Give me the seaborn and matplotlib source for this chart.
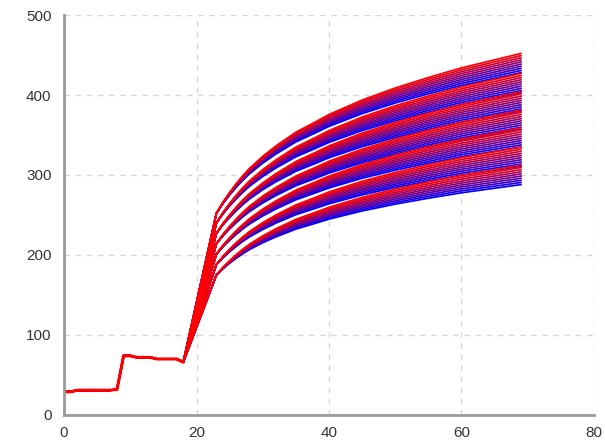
import pandas as pd
import matplotlib
matplotlib.use("Agg")
import matplotlib.pyplot as plt
import seaborn as sns

# ---------------- data ----------------
# shared start of every line (x = 0 .. 18)
pre_x = list(range(19))
pre_y = [29, 29, 31, 31, 31, 31, 31, 31, 32, 74, 74, 72, 72, 72, 70, 70, 70, 70, 66]

# shape of the growth part, read from the top (red) line
curve_x = [23, 24, 25, 26, 27, 28, 30, 32, 35, 38, 40, 45, 50, 55, 60, 65, 69]
curve_top = [254, 268, 280, 291, 301, 310, 325, 338, 355, 368, 377, 395, 410, 423, 435, 445, 453]

# seven bands: value at x=23 and end value of the reddest line at x=69
band_start = [175, 188, 201, 214, 227, 240, 252]
band_end_red = [312, 335, 359, 381, 404, 427, 452]
band_spread = 24      # gap between bluest and reddest line end inside a band
n_shades = 10         # lines per band, blue -> red

# ---------------- build the long table ----------------
span = curve_top[-1] - curve_top[0]
profile = [(v - curve_top[0]) / span for v in curve_top]

rows = []
for j in range(n_shades):
    for b in range(len(band_start)):
        name = f"s{j}_b{b}"
        end = band_end_red[b] - band_spread * (1 - j / (n_shades - 1))
        xs = pre_x + curve_x
        ys = pre_y + [band_start[b] + (end - band_start[b]) * p for p in profile]
        for order, (x, y) in enumerate(zip(xs, ys)):
            rows.append({"line": name, "order": order, "x": x, "y": y})
df = pd.DataFrame(rows)

line_order = [f"s{j}_b{b}" for j in range(n_shades) for b in range(len(band_start))]
palette = {}
for j in range(n_shades):
    t = j / (n_shades - 1)
    for b in range(len(band_start)):
        palette[f"s{j}_b{b}"] = (t, 0.0, 1.0 - t)

# ---------------- plot ----------------
sns.set_style("white")
plt.rcParams["font.family"] = ["Liberation Sans", "DejaVu Sans"]

fig, ax = plt.subplots(figsize=(6.05, 4.48), dpi=100)
fig.subplots_adjust(left=0.1058, right=0.9818, bottom=0.0737, top=0.9665)

sns.lineplot(data=df, x="x", y="y", hue="line", hue_order=line_order,
             palette=palette, sort=False, estimator=None, legend=False,
             linewidth=1.25, ax=ax)

# the shared start looks heavier in the reference
sns.lineplot(x=pre_x, y=pre_y, color="red", linewidth=2.2, ax=ax)

ax.set_xlim(0, 80)
ax.set_ylim(0, 500)
ax.set_xticks(range(0, 81, 20))
ax.set_yticks(range(0, 501, 100))
ax.set_xlabel("")
ax.set_ylabel("")

ax.grid(True, linestyle=(0, (4, 4)), color="#d6d6d6", linewidth=1)
ax.set_axisbelow(True)
for side in ["top", "right"]:
    ax.spines[side].set_visible(False)
for side in ["left", "bottom"]:
    ax.spines[side].set_color("#9a9a9a")
    ax.spines[side].set_linewidth(2)

ax.tick_params(axis="both", length=0, labelsize=11, colors="#333333")
ax.tick_params(axis="x", pad=8)
ax.tick_params(axis="y", pad=9)

fig.savefig("out.png", dpi=100)
